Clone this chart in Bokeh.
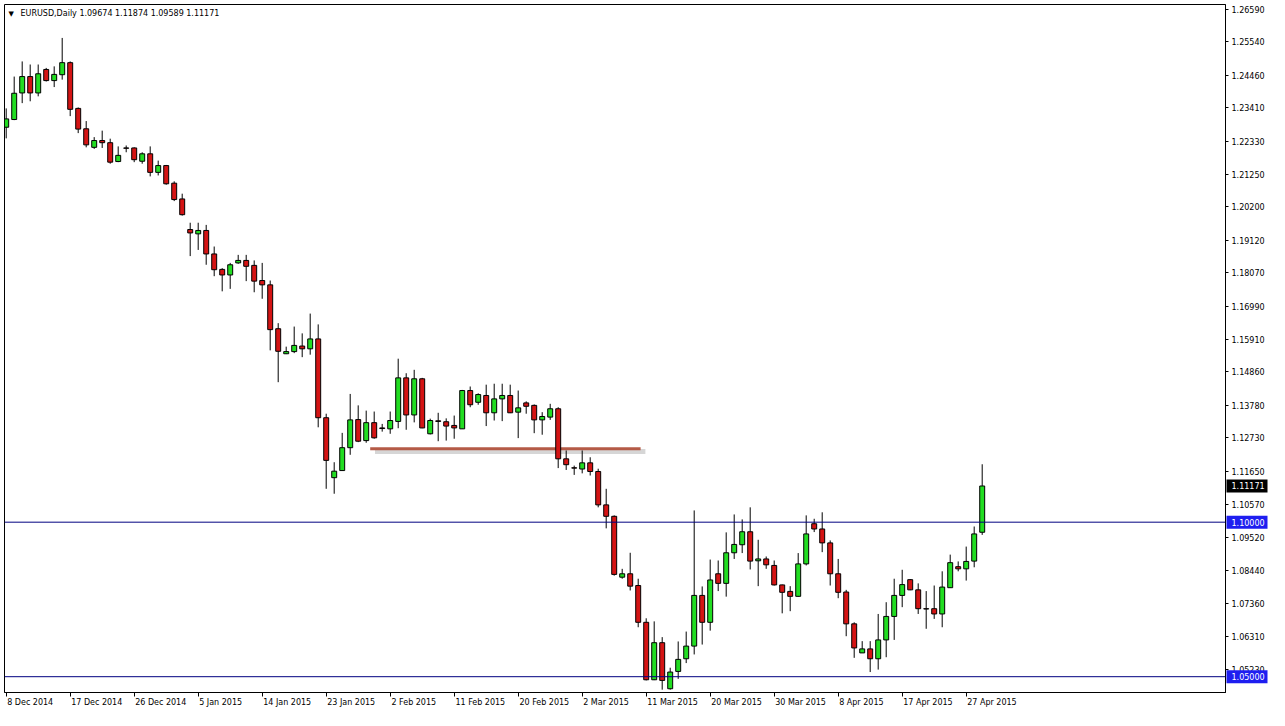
from bokeh.plotting import figure
from bokeh.models import ColumnDataSource, Range1d, FixedTicker, PrintfTickFormatter, Span, Label
from bokeh.core.properties import value
from bokeh.embed import file_html
from bokeh.resources import INLINE

# ---- data (EURUSD daily) ----
opens = [1.2278, 1.2303, 1.2389, 1.2442, 1.2389, 1.2465, 1.2429, 1.2448, 1.2487, 1.2339,
         1.2273, 1.2213, 1.2235, 1.2228, 1.2167, 1.2211, 1.2211, 1.2168, 1.2192, 1.2132,
         1.2154, 1.2097, 1.2046, 1.1947, 1.1933, 1.1944, 1.1868, 1.1818, 1.1800, 1.1839,
         1.1847, 1.1831, 1.1782, 1.1768, 1.1626, 1.1545, 1.1552, 1.1570, 1.1561, 1.1593,
         1.1338, 1.1144, 1.1167, 1.1241, 1.1332, 1.1264, 1.1322, 1.1305, 1.1302, 1.1326,
         1.1467, 1.1347, 1.1464, 1.1286, 1.1328, 1.1325, 1.1313, 1.1302, 1.1426, 1.1388,
         1.1410, 1.1354, 1.1399, 1.1410, 1.1356, 1.1386, 1.1378, 1.1331, 1.1340, 1.1367,
         1.1205, 1.1176, 1.1172, 1.1192, 1.1164, 1.1056, 1.1019, 1.0822, 1.0833, 1.0795,
         1.0676, 1.0490, 1.0610, 1.0461, 1.0517, 1.0558, 1.0599, 1.0763, 1.0676, 1.0833,
         1.0802, 1.0901, 1.0927, 1.0969, 1.0875, 1.0881, 1.0860, 1.0797, 1.0776, 1.0760,
         1.0865, 1.0995, 1.0978, 1.0933, 1.0833, 1.0774, 1.0671, 1.0577, 1.0590, 1.0558,
         1.0619, 1.0695, 1.0763, 1.0814, 1.0781, 1.0720, 1.0720, 1.0703, 1.0788, 1.0856,
         1.0849, 1.0874, 1.09674]
highs = [1.2339, 1.2442, 1.2491, 1.2481, 1.2481, 1.2470, 1.2475, 1.2567, 1.2491, 1.2342,
         1.2298, 1.2246, 1.2267, 1.2241, 1.2216, 1.2219, 1.2213, 1.2197, 1.2216, 1.2170,
         1.2156, 1.2103, 1.2063, 1.1969, 1.1969, 1.1962, 1.1892, 1.1822, 1.1839, 1.1865,
         1.1865, 1.1847, 1.1839, 1.1782, 1.1644, 1.1568, 1.1633, 1.1611, 1.1675, 1.1640,
         1.1351, 1.1194, 1.1289, 1.1415, 1.1378, 1.1361, 1.1358, 1.1318, 1.1358, 1.1529,
         1.1482, 1.1493, 1.1467, 1.1335, 1.1354, 1.1336, 1.1345, 1.1428, 1.1439, 1.1417,
         1.1445, 1.1448, 1.1448, 1.1445, 1.1426, 1.1391, 1.1381, 1.1356, 1.1383, 1.1372,
         1.1232, 1.1183, 1.1232, 1.1210, 1.1173, 1.1108, 1.1022, 1.0849, 1.0901, 1.0817,
         1.0689, 1.0679, 1.0628, 1.0529, 1.0614, 1.0646, 1.1038, 1.0792, 1.0879, 1.0876,
         1.0967, 1.1025, 1.1009, 1.1048, 1.0943, 1.0889, 1.0876, 1.0798, 1.0793, 1.0900,
         1.1022, 1.1011, 1.1032, 1.0941, 1.0881, 1.0781, 1.0676, 1.0615, 1.0615, 1.0703,
         1.0741, 1.0817, 1.0846, 1.0816, 1.0802, 1.0777, 1.0795, 1.0841, 1.0895, 1.0873,
         1.0921, 1.0986, 1.11874]
lows = [1.2242, 1.2301, 1.2356, 1.2362, 1.2378, 1.2426, 1.2408, 1.2432, 1.2314, 1.2259,
        1.2213, 1.2208, 1.2211, 1.2160, 1.2165, 1.2197, 1.2165, 1.2160, 1.2119, 1.2122,
        1.2092, 1.2039, 1.1992, 1.1861, 1.1881, 1.1833, 1.1796, 1.1747, 1.1755, 1.1836,
        1.1780, 1.1744, 1.1723, 1.1556, 1.1453, 1.1544, 1.1547, 1.1534, 1.1542, 1.1307,
        1.1108, 1.1092, 1.1166, 1.1218, 1.1259, 1.1257, 1.1270, 1.1293, 1.1286, 1.1304,
        1.1299, 1.1323, 1.1304, 1.1284, 1.1262, 1.1264, 1.1270, 1.1302, 1.1372, 1.1380,
        1.1311, 1.1329, 1.1327, 1.1353, 1.1272, 1.1351, 1.1288, 1.1283, 1.1331, 1.1175,
        1.1169, 1.1153, 1.1158, 1.1151, 1.1048, 1.0980, 1.0827, 1.0817, 1.0779, 1.0660,
        1.0488, 1.0489, 1.0458, 1.0458, 1.0493, 1.0544, 1.0572, 1.0604, 1.0649, 1.0777,
        1.0759, 1.0881, 1.0900, 1.0847, 1.0793, 1.0849, 1.0795, 1.0705, 1.0712, 1.0759,
        1.0860, 1.0968, 1.0903, 1.0795, 1.0754, 1.0631, 1.0561, 1.0577, 1.0515, 1.0523,
        1.0563, 1.0619, 1.0725, 1.0780, 1.0703, 1.0655, 1.0687, 1.0660, 1.0787, 1.0841,
        1.0811, 1.0854, 1.09589]
closes = [1.2305, 1.2388, 1.2442, 1.2389, 1.2451, 1.2429, 1.2449, 1.2487, 1.2336, 1.2272,
          1.2221, 1.2235, 1.2228, 1.2165, 1.2187, 1.2210, 1.2173, 1.2192, 1.2132, 1.2154,
          1.2095, 1.2044, 1.1995, 1.1936, 1.1944, 1.1868, 1.1817, 1.1800, 1.1833, 1.1847,
          1.1828, 1.1780, 1.1768, 1.1623, 1.1553, 1.1552, 1.1572, 1.1561, 1.1593, 1.1338,
          1.1200, 1.1165, 1.1241, 1.1331, 1.1262, 1.1322, 1.1273, 1.1303, 1.1329, 1.1467,
          1.1347, 1.1464, 1.1305, 1.1329, 1.1326, 1.1311, 1.1305, 1.1426, 1.1380, 1.1413,
          1.1354, 1.1399, 1.1410, 1.1354, 1.1370, 1.1375, 1.1331, 1.1342, 1.1367, 1.1205,
          1.1186, 1.1175, 1.1192, 1.1164, 1.1056, 1.1019, 1.0831, 1.0833, 1.0793, 1.0676,
          1.0490, 1.0610, 1.0488, 1.0515, 1.0556, 1.0599, 1.0763, 1.0676, 1.0813, 1.0802,
          1.0901, 1.0928, 1.0969, 1.0874, 1.0881, 1.0862, 1.0797, 1.0773, 1.0760, 1.0865,
          1.0962, 1.0978, 1.0933, 1.0833, 1.0773, 1.0671, 1.0593, 1.0590, 1.0558, 1.0619,
          1.0695, 1.0763, 1.0798, 1.0781, 1.0720, 1.0719, 1.0703, 1.0790, 1.0869, 1.0849,
          1.0873, 1.0962, 1.11171]

date_labels = ["8 Dec 2014", "17 Dec 2014", "26 Dec 2014", "5 Jan 2015", "14 Jan 2015",
               "23 Jan 2015", "2 Feb 2015", "11 Feb 2015", "20 Feb 2015", "2 Mar 2015",
               "11 Mar 2015", "20 Mar 2015", "30 Mar 2015", "8 Apr 2015", "17 Apr 2015",
               "27 Apr 2015"]
date_label_bars = [0, 8, 16, 24, 32, 40, 48, 56, 64, 72, 80, 88, 96, 104, 112, 120]
price_ticks = [1.26590, 1.25540, 1.24460, 1.23410, 1.22330, 1.21250, 1.20200, 1.19120,
               1.18070, 1.16990, 1.15910, 1.14860, 1.13780, 1.12730, 1.11650, 1.10570,
               1.09520, 1.08440, 1.07360, 1.06310, 1.05230, 1.04180]
level_lines = [1.10000, 1.05000]
trend_bars = [45.5, 79.3]
trend_prices = [1.1238, 1.1238]
symbol_title = "EURUSD,Daily"

# ---- layout / style ----
FONT = "DejaVu Sans"
FS = 8  # px
GREEN = "#22dd22"
RED = "#d41414"
LEVEL_BLUE = "#1e1ef0"
W, H = 1269, 710
BL, BT, BR, BB = 4, 4, 44, 18
PX_PER_BAR = 8.0
PX_PER_PRICE = 1.0 / 0.0003236
frame_w = W - BL - BR
frame_h = H - BT - BB
x0 = -0.2125
y_top = 1.26752
x_range = Range1d(x0, x0 + frame_w / PX_PER_BAR)
y_range = Range1d(y_top - frame_h / PX_PER_PRICE, y_top)

EM = {"0": .636, "1": .636, "2": .636, "3": .636, "4": .636, "5": .636, "6": .636,
      "7": .636, "8": .636, "9": .636, " ": .318, "D": .770, "e": .615, "c": .550,
      "J": .295, "a": .613, "n": .634, "F": .575, "b": .635, "M": .863, "r": .411,
      "A": .684, "p": .635}
def text_w(s):
    return sum(EM.get(ch, .6) for ch in s) * FS

bars = list(range(len(opens)))
src = ColumnDataSource(dict(
    x=bars, o=opens, h=highs, l=lows, c=closes,
    top=[max(a, b) for a, b in zip(opens, closes)],
    bot=[min(a, b) for a, b in zip(opens, closes)],
    col=[GREEN if c >= o else RED for o, c in zip(opens, closes)],
))

p = figure(width=W, height=H, x_range=x_range, y_range=y_range,
           y_axis_location="right", output_backend="svg", toolbar_location=None,
           min_border_left=BL, min_border_top=BT, min_border_right=BR, min_border_bottom=BB)
p.grid.visible = False
p.outline_line_color = "black"
p.outline_line_width = 1
p.background_fill_color = "white"
p.border_fill_color = "white"

for lv in level_lines:
    p.add_layout(Span(location=lv, dimension="width", line_color="#000080", line_width=1))

# analyst's trend line with its drop shadow
p.line(x=[b + 0.6 for b in trend_bars], y=[v - 0.0009 for v in trend_prices],
       line_color="#d6d6d6", line_width=5)
p.line(x=trend_bars, y=trend_prices, line_color="#b45a46", line_width=3)

# candles
p.segment(x0="x", y0="l", x1="x", y1="h", source=src, line_color="black", line_width=1)
p.vbar(x="x", width=0.62, top="top", bottom="bot", fill_color="col",
       line_color="black", line_width=1, source=src)

# x axis: labels start at their (minor) tick marks
centers = [round(b + (text_w(t) / 2 + 1) / PX_PER_BAR, 3) for b, t in zip(date_label_bars, date_labels)]
xa = p.xaxis[0]
xa.ticker = FixedTicker(ticks=centers, minor_ticks=date_label_bars)
xa.major_label_overrides = {c: t for c, t in zip(centers, date_labels)}
xa.major_tick_line_color = None
xa.major_tick_in = 0
xa.major_tick_out = 0
xa.minor_tick_in = 0
xa.minor_tick_out = 4
xa.minor_tick_line_color = "black"
xa.major_label_standoff = 1
xa.major_label_text_font = FONT
xa.major_label_text_font_size = f"{FS}px"
xa.major_label_text_color = "black"
xa.axis_line_color = "black"

ya = p.yaxis[0]
ya.ticker = FixedTicker(ticks=price_ticks)
ya.formatter = PrintfTickFormatter(format="%.5f")
ya.major_tick_in = 0
ya.major_tick_out = 3
ya.minor_tick_line_color = None
ya.major_label_standoff = 3
ya.major_label_text_font = FONT
ya.major_label_text_font_size = f"{FS}px"
ya.major_label_text_color = "black"
ya.axis_line_color = "black"

# price boxes on the right scale (level lines and last close), drawn over the axis
box_prices = level_lines + [closes[-1]]
box_colors = [LEVEL_BLUE, LEVEL_BLUE, "black"]
bx_left = x0 + (frame_w + 1) / PX_PER_BAR
bx_right = x0 + (frame_w + 42) / PX_PER_BAR
half_h = 6.5 / PX_PER_PRICE
box_src = ColumnDataSource(dict(
    left=[bx_left] * 3, right=[bx_right] * 3,
    top=[v + half_h for v in box_prices], bottom=[v - half_h for v in box_prices],
    y=box_prices, tx=[bx_left + 5 / PX_PER_BAR] * 3,
    text=[f"{v:.5f}" for v in box_prices], color=box_colors,
))
p.quad(left="left", right="right", top="top", bottom="bottom", source=box_src,
       fill_color="color", line_color=None, level="overlay")
p.text(x="tx", y="y", text="text", source=box_src, text_color="white",
       text_font=value(FONT), text_font_size=f"{FS}px", text_baseline="middle",
       level="overlay")

# header
header = f"{symbol_title}  {opens[-1]:.5f} {highs[-1]:.5f} {lows[-1]:.5f} {closes[-1]:.5f}"
p.add_layout(Label(x=4, y=y_top - 9 / PX_PER_PRICE, x_units="screen", y_units="data",
                   text="\u25bc", text_font=FONT, text_font_size="7px",
                   text_color="black", text_baseline="middle"))
p.add_layout(Label(x=16, y=y_top - 9 / PX_PER_PRICE, x_units="screen", y_units="data",
                   text=header, text_font=FONT, text_font_size=f"{FS}px",
                   text_color="black", text_baseline="middle"))

open("out.html", "w").write(file_html(p, INLINE))
